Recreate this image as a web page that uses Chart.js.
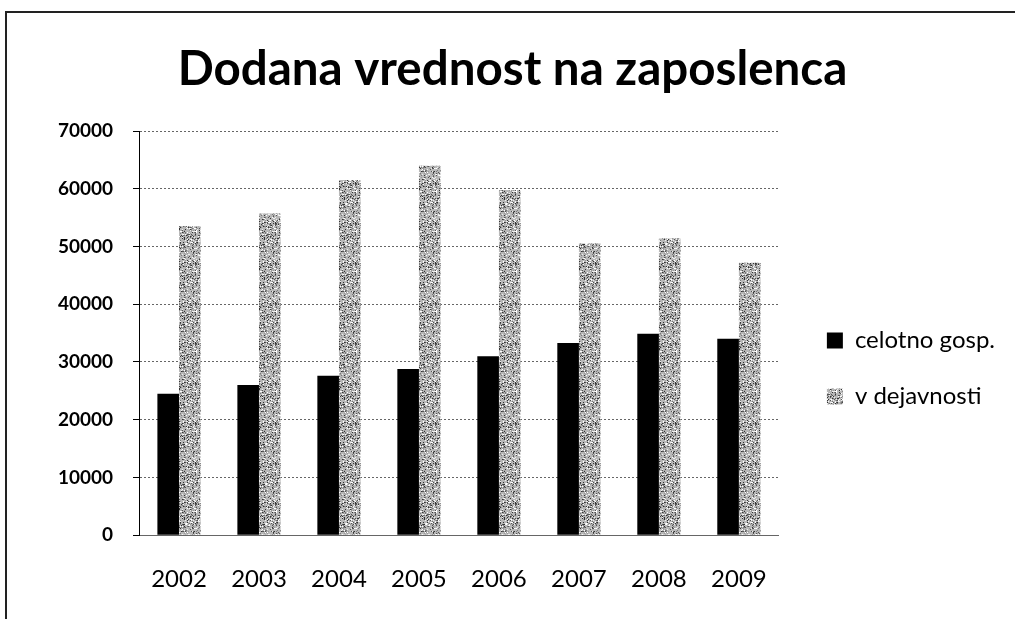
<!DOCTYPE html>
<html>
<head>
<meta charset="utf-8">
<script src="https://cdn.jsdelivr.net/npm/chart.js@4.4.1/dist/chart.umd.min.js"></script>
<style>
  body { margin: 0; background: #fff; }
  #wrap { position: relative; width: 1015px; height: 619px; }
  #frame { position: absolute; left: 5px; top: 11px; right: 0; bottom: 0;
           border-left: 2px solid #222; border-top: 2px solid #222; }
  canvas { position: absolute; left: 0; top: 0; }
</style>
</head>
<body>
<div id="wrap">
  <div id="frame"></div>
  <canvas id="chart" width="1015" height="619"></canvas>
</div>
<script>
const years = ['2002', '2003', '2004', '2005', '2006', '2007', '2008', '2009'];
const celotno = [24500, 26000, 27600, 28800, 31000, 33300, 34900, 34000];
const dejavnost = [53500, 55700, 61500, 64000, 59800, 50500, 51400, 47200];
const yTicks = [0, 10000, 20000, 30000, 40000, 50000, 60000, 70000];

// speckled grey fill, like the scanned original
function speckle() {
    const c = document.createElement('canvas');
    c.width = 40; c.height = 40;
    const g = c.getContext('2d');
    g.fillStyle = '#b8b8b8';
    g.fillRect(0, 0, 40, 40);
    let s = 11;
    const next = () => { s = (s * 1103515245 + 12345) % 2147483648; return s >>> 16; };
    for (let i = 0; i < 900; i++) {
        const x = next() % 40;
        const y = next() % 40;
        const shade = next() % 6;
        g.fillStyle = ['#333', '#555', '#777', '#999', '#eee', '#fff'][shade];
        g.fillRect(x, y, 1, 1);
    }
    return g.createPattern(c, 'repeat');
}

// leave some room between the plot and the legend
const GAP = 16;
const legendGap = {
    id: 'legendGap',
    beforeLayout(chart) {
        const lg = chart.legend;
        if (lg && !lg._gapPatched) {
            const fit = lg.fit.bind(lg);
            lg.fit = function () { fit(); this.width += GAP; };
            lg._gapPatched = true;
        }
    },
    afterLayout(chart) { chart.legend.left += GAP; }
};

const fontFam = 'Lato, "Open Sans", sans-serif';
const ctx = document.getElementById('chart').getContext('2d');
new Chart(ctx, {
    type: 'bar',
    data: {
        labels: years,
        datasets: [
            { label: 'celotno gosp.', data: celotno, backgroundColor: '#000' },
            { label: 'v dejavnosti', data: dejavnost, backgroundColor: speckle() }
        ]
    },
    options: {
        responsive: false,
        animation: false,
        layout: { padding: { top: 41, left: 20, right: 10, bottom: 3 } },
        datasets: { bar: { barPercentage: 1, categoryPercentage: 0.54 } },
        plugins: {
            title: {
                display: true,
                text: 'Dodana vrednost na zaposlenca',
                color: '#000',
                font: { family: fontFam, size: 47.5, weight: 'bold' },
                padding: { top: 0, bottom: 33 }
            },
            legend: {
                position: 'right',
                title: { display: true, text: ' ', font: { size: 20 }, padding: { top: 28, bottom: 28 } },
                labels: {
                    color: '#000',
                    boxWidth: 16, boxHeight: 16,
                    padding: 32,
                    font: { family: fontFam, size: 24 }
                }
            },
            tooltip: { enabled: false }
        },
        scales: {
            x: {
                grid: { display: false },
                border: { color: '#666', width: 1, dash: [2, 2] },
                ticks: { color: '#000', padding: 22, font: { family: fontFam, size: 24 } }
            },
            y: {
                min: 0, max: 70000,
                afterBuildTicks: s => { s.ticks = yTicks.map(v => ({ value: v })); },
                afterFit: s => { s.width = 119; },
                grid: { color: '#666', tickColor: '#000', tickLength: 6 },
                border: { color: '#000', width: 1, dash: [2, 2] },
                ticks: {
                    color: '#000', padding: 20,
                    font: { family: fontFam, size: 19, weight: 'bold' },
                    callback: v => String(v)
                }
            }
        }
    },
    plugins: [legendGap]
});
</script>
</body>
</html>
